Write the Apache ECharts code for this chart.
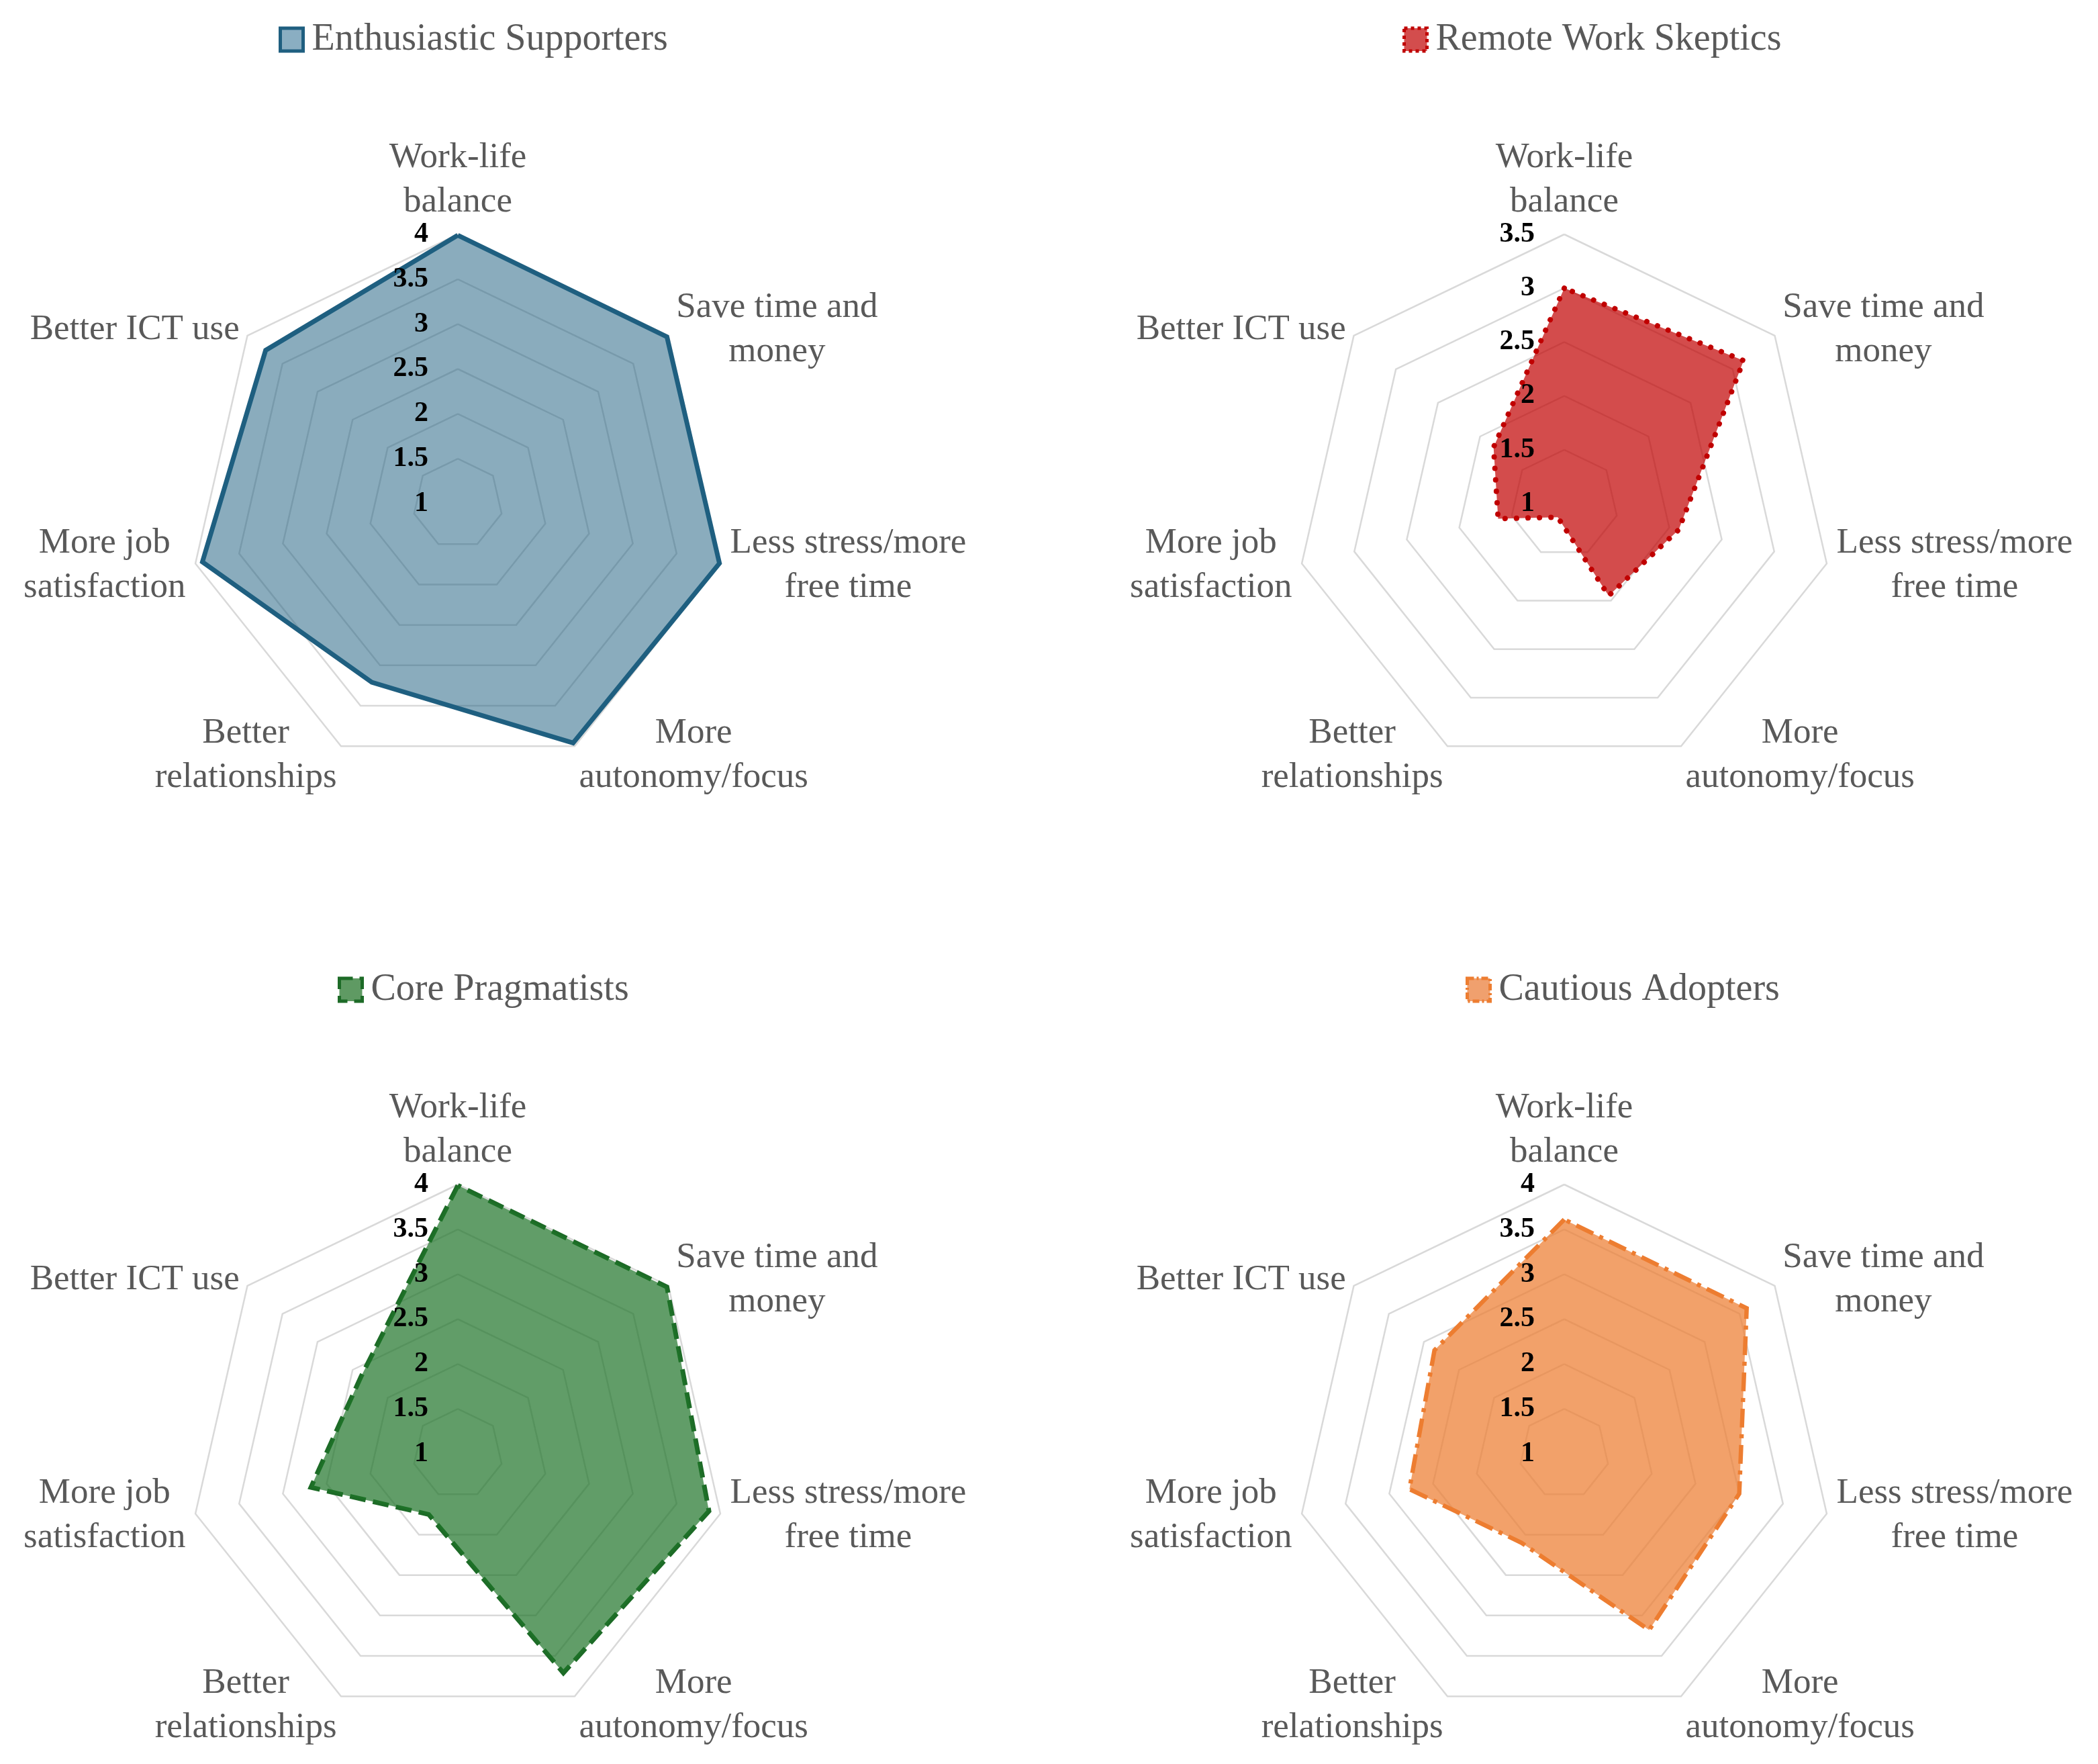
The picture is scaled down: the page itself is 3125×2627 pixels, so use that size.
<!DOCTYPE html>
<html>
<head>
<meta charset="utf-8">
<title>Remote work segments</title>
<script src="https://cdn.jsdelivr.net/npm/echarts@6.0.0/dist/echarts.min.js"></script>
<style>
    html, body { margin:0; padding:0; background:#fff; }
    #radarChart { width:3125px; height:2627px; }
</style>
</head>
<body>
<div id="radarChart"></div>
<script>
// axis names (clockwise from the top)
var indicatorNames = ['Work-life\nbalance', 'Save time and\nmoney', 'Less stress/more\nfree time',
    'More\nautonomy/focus', 'Better\nrelationships', 'More job\nsatisfaction', 'Better ICT use'];

var segmentNames = ['Enthusiastic Supporters', 'Remote Work Skeptics', 'Core Pragmatists', 'Cautious Adopters'];

// mean scores, same order as indicatorNames
var enthusiasticSupporters = [3.99, 3.98, 3.99, 3.96, 3.21, 3.92, 3.74];
var remoteWorkSkeptics     = [3.00, 3.13, 2.09, 1.95, 1.14, 1.63, 1.84];
var corePragmatists        = [3.99, 3.98, 3.87, 3.71, 1.75, 2.68, 2.38];
var cautiousAdopters       = [3.61, 3.60, 3.00, 3.18, 2.10, 2.77, 2.85];

// value axis of each panel
var scaleMin = [1, 1, 1, 1];
var scaleMax = [4, 3.5, 4, 4];
var scaleStep = 0.5;

var segmentValues = [enthusiasticSupporters, remoteWorkSkeptics, corePragmatists, cautiousAdopters];

// echarts lays indicators out counter-clockwise, the original goes clockwise
var axisOrder = [0, 6, 5, 4, 3, 2, 1];
function clockwise(arr) {
    return axisOrder.map(function (i) { return arr[i]; });
}

var serifFont = "'Palatino Linotype', 'Book Antiqua', Palatino, 'Liberation Serif', serif";

// one entry per panel: position + look
var panels = [
    {center:[682, 750],  legendLeft:410,  legendTop:26,   line:'#1f5f80', fill:'#1f5f80', fillOpacity:0.52, legendFill:'#8aaec2',
        width:7, dash:'solid', cap:'butt', legendDash:'solid'},
    {center:[2330, 750], legendLeft:2084, legendTop:26,   line:'#c00000', fill:'#c00000', fillOpacity:0.70, legendFill:'#d34d4d',
        width:8, dash:[0.1, 17], cap:'round', legendDash:'dotted'},
    {center:[682, 2165], legendLeft:498,  legendTop:1441, line:'#1d6b27', fill:'#1e7328', fillOpacity:0.70, legendFill:'#5f9a63',
        width:7, dash:[24, 11], cap:'butt', legendDash:'dashed'},
    {center:[2330, 2165], legendLeft:2178, legendTop:1441, line:'#ed7d31', fill:'#ed7d31', fillOpacity:0.72, legendFill:'#f0a06e',
        width:6.5, dash:[28, 10, 6, 10], cap:'butt', legendDash:[10, 4, 3, 4]}
];

var chart = echarts.init(document.getElementById('radarChart'));

function makeIndicators(k, withLabel) {
    return clockwise(indicatorNames).map(function (name, i) {
        var ind = {name:name, min:scaleMin[k], max:scaleMax[k]};
        if (withLabel && i === 0) { ind.axisLabel = {show:true}; }
        return ind;
    });
}

var radars = [];
panels.forEach(function (p, k) {
    var splits = Math.round((scaleMax[k] - scaleMin[k]) / scaleStep);
    // grid + axis names, under the filled area
    radars.push({
        center: p.center,
        radius: 401,
        startAngle: 90,
        shape: 'polygon',
        splitNumber: splits,
        nameGap: 15,
        indicator: makeIndicators(k, false),
        axisName: {
            color:'#595959',
            fontSize:53,
            fontFamily:serifFont,
            lineHeight:66,
            formatter: function (name) {
                return name.split('\n').map(function (s) { return '{c|' + s + '}'; }).join('\n');
            },
            rich: {
                c: {align:'center', color:'#595959', fontSize:53, fontFamily:serifFont, lineHeight:66}
            }
        },
        axisLine: {show:false},
        axisTick: {show:false},
        axisLabel: {show:false},
        splitLine: {
            lineStyle: {color:'#d9d9d9', width:2.5}
        },
        splitArea: {show:false}
    });
    // same axes again, only for the tick labels on top of the series
    radars.push({
        z: 5,
        center: p.center,
        radius: 401,
        startAngle: 90,
        shape: 'polygon',
        splitNumber: splits,
        indicator: makeIndicators(k, true),
        axisName: {show:false},
        axisLine: {show:false},
        axisTick: {show:false},
        axisLabel: {
            show:false,
            color:'#000',
            fontSize:42,
            fontWeight:'bold',
            fontFamily:serifFont,
            margin:44
        },
        splitLine: {show:false},
        splitArea: {show:false}
    });
});

var legends = panels.map(function (p, k) {
    return {
        left: p.legendLeft,
        top: p.legendTop,
        itemWidth: 34,
        itemHeight: 34,
        selectedMode: false,
        textStyle: {color:'#595959', fontSize:56, fontFamily:serifFont, padding:[0, 0, 0, 8]},
        data: [{
            name: segmentNames[k],
            icon: 'rect',
            itemStyle: {color:p.legendFill, borderColor:p.line, borderWidth:5, borderType:p.legendDash}
        }]
    };
});

var series = panels.map(function (p, k) {
    return {
        type: 'radar',
        radarIndex: k * 2,
        symbol: 'none',
        silent: true,
        itemStyle: {color:p.line},
        lineStyle: {color:p.line, width:p.width, type:p.dash, cap:p.cap, join:'miter'},
        areaStyle: {color:p.fill, opacity:p.fillOpacity},
        data: [{name:segmentNames[k], value:clockwise(segmentValues[k])}]
    };
});

chart.setOption({
    backgroundColor: '#ffffff',
    animation: false,
    legend: legends,
    radar: radars,
    series: series
});

window.addEventListener('resize', function () {
    chart.resize();
});
</script>
</body>
</html>
